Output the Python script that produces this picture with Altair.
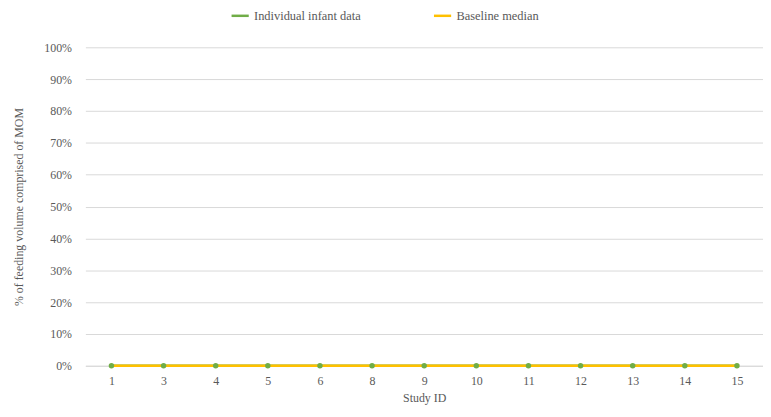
import altair as alt
import pandas as pd

study_ids = ["1", "3", "4", "5", "6", "8", "9", "10", "11", "12", "13", "14", "15"]
individual = [0, 0, 0, 0, 0, 0, 0, 0, 0, 0, 0, 0, 0]
baseline_median = [0, 0, 0, 0, 0, 0, 0, 0, 0, 0, 0, 0, 0]

series_names = ["Individual infant data", "Baseline median"]
series_colors = ["#70AD47", "#FFC000"]

rows = []
for sid, v in zip(study_ids, individual):
    rows.append({"Study ID": sid, "value": v, "series": series_names[0]})
for sid, v in zip(study_ids, baseline_median):
    rows.append({"Study ID": sid, "value": v, "series": series_names[1]})
df = pd.DataFrame(rows)

FONT = "Liberation Serif"
GREY = "#595959"

x = alt.X("Study ID:N", sort=study_ids,
          scale=alt.Scale(paddingInner=0, paddingOuter=0),
          axis=alt.Axis(title="Study ID", labelAngle=0, ticks=False, grid=False,
                        domainColor="#D9D9D9", labelPadding=10, titlePadding=6))
y = alt.Y("value:Q", scale=alt.Scale(domain=[0, 1]),
          axis=alt.Axis(title="% of feeding volume comprised of MOM", format=".0%",
                        values=[i / 10 for i in range(11)], ticks=False, domain=False,
                        gridColor="#D9D9D9", labelPadding=14, titlePadding=18))
color = alt.Color("series:N",
                  scale=alt.Scale(domain=series_names, range=series_colors),
                  legend=alt.Legend(title=None, orient="none", direction="horizontal",
                                    legendX=146, legendY=-42, symbolType="stroke",
                                    symbolStrokeWidth=2.5, symbolSize=300,
                                    columnPadding=68, labelFontSize=12.5))

base = alt.Chart(df).encode(x=x, y=y, color=color)

ind = base.transform_filter(alt.datum.series == series_names[0])
med = base.transform_filter(alt.datum.series == series_names[1])

chart = alt.layer(
    ind.mark_line(strokeWidth=2.5),
    med.mark_line(strokeWidth=2.5),
    ind.mark_point(filled=True, size=30, opacity=1),
).properties(
    width=683, height=321,
    autosize=alt.AutoSizeParams(type="none"),
    padding={"left": 78, "top": 38, "right": 0, "bottom": 50},
).configure_view(stroke=None).configure_axis(
    labelFont=FONT, titleFont=FONT, labelColor=GREY, titleColor=GREY,
    labelFontSize=12, titleFontSize=12, titleFontWeight="normal",
).configure_legend(labelFont=FONT, labelColor=GREY)

chart.save("out.html", embed_options={"renderer": "svg", "actions": False})
